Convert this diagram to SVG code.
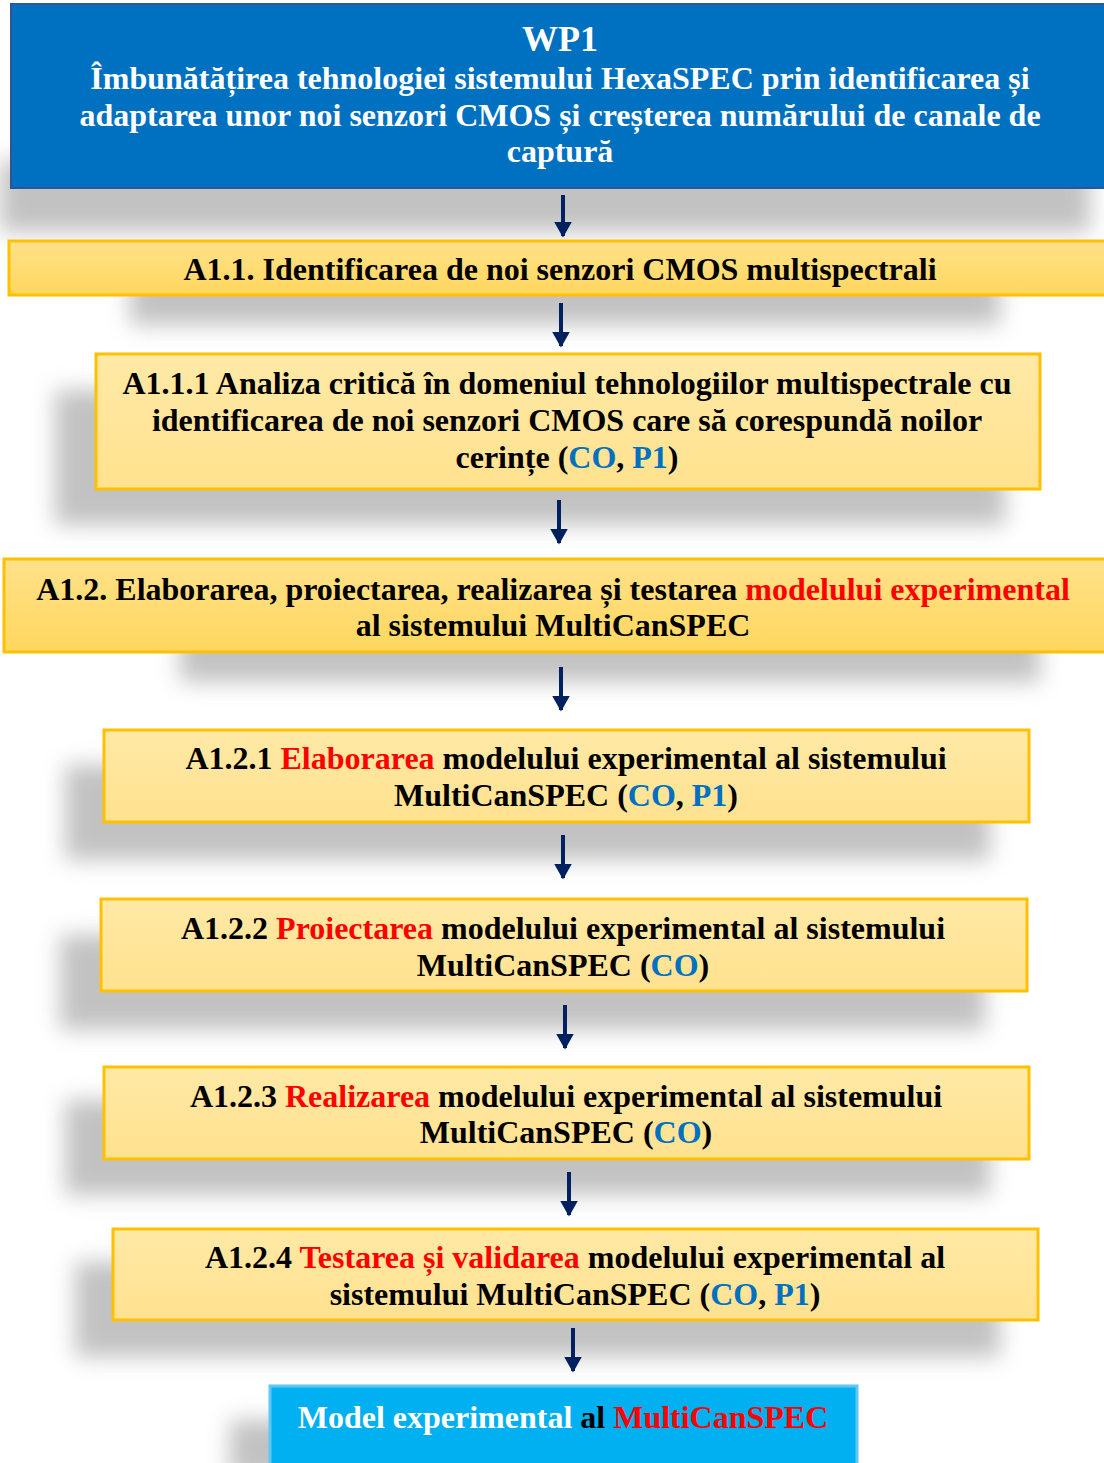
<svg xmlns="http://www.w3.org/2000/svg" width="1104" height="1463" viewBox="0 0 1104 1463">
<style>
.t{font-family:"Liberation Serif","Times New Roman",serif;font-weight:bold;font-size:32px;text-anchor:middle;fill:#000}
.w{fill:#fff}
.r{fill:#FF0000}
.b{fill:#0070C0}
.box1{fill:url(#gGold);stroke:#FFC000;stroke-width:3}
.box2{fill:url(#gLight);stroke:#FFC000;stroke-width:3}
.sh{fill:#9a9a9a;opacity:0.6;filter:url(#blur)}
.arr{stroke:#002060;stroke-width:4;fill:none;marker-end:url(#ah)}
</style>
<defs>
<filter id="blur" x="-20%" y="-60%" width="140%" height="220%"><feGaussianBlur stdDeviation="11"/></filter>
<linearGradient id="gGold" x1="0" y1="0" x2="0" y2="1"><stop offset="0" stop-color="#FFE18A"/><stop offset="1" stop-color="#FFD75E"/></linearGradient>
<linearGradient id="gLight" x1="0" y1="0" x2="0" y2="1"><stop offset="0" stop-color="#FFE9A6"/><stop offset="1" stop-color="#FFE28F"/></linearGradient>
<marker id="ah" markerWidth="4" markerHeight="4.5" refX="3.6" refY="2.25" orient="auto" markerUnits="strokeWidth"><path d="M0,0 L4,2.25 L0,4.5 Z" fill="#002060"/></marker>
</defs>
<rect width="1104" height="1463" fill="#fff"/>
<g id="shadows">
<rect class="sh" x="0" y="160" width="1090" height="72"/>
<rect class="sh" x="130" y="270" width="870" height="55"/>
<rect class="sh" x="55" y="390" width="950" height="135"/>
<rect class="sh" x="180" y="620" width="860" height="62"/>
<rect class="sh" x="65" y="765" width="925" height="95"/>
<rect class="sh" x="60" y="935" width="925" height="95"/>
<rect class="sh" x="65" y="1100" width="925" height="95"/>
<rect class="sh" x="75" y="1262" width="925" height="95"/>
<rect class="sh" x="230" y="1420" width="590" height="60"/>
</g>
<g id="connectors">
<line class="arr" x1="563" y1="195" x2="563" y2="236"/>
<line class="arr" x1="561" y1="303" x2="561" y2="346"/>
<line class="arr" x1="559" y1="500" x2="559" y2="543"/>
<line class="arr" x1="561" y1="667" x2="561" y2="710"/>
<line class="arr" x1="563" y1="835" x2="563" y2="878"/>
<line class="arr" x1="565" y1="1005" x2="565" y2="1048"/>
<line class="arr" x1="569" y1="1172" x2="569" y2="1215"/>
<line class="arr" x1="573" y1="1328" x2="573" y2="1371"/>
</g>
<g id="wp1">
<rect x="11" y="4" width="1095" height="184" fill="#0070C0" stroke="#2F5597" stroke-width="2"/>
<text class="t w" x="560" y="51" style="font-size:36px">WP1</text>
<text class="t w" x="560" y="89">Îmbunătățirea tehnologiei sistemului HexaSPEC prin identificarea și</text>
<text class="t w" x="560" y="126">adaptarea unor noi senzori CMOS și creșterea numărului de canale de</text>
<text class="t w" x="560" y="162">captură</text>
</g>
<g id="a11">
<rect class="box1" x="9" y="241" width="1097" height="54"/>
<text class="t" x="560" y="280">A1.1. Identificarea de noi senzori CMOS multispectrali</text>
</g>
<g id="a111">
<rect class="box2" x="96" y="354" width="944" height="135"/>
<text class="t" x="567" y="394">A1.1.1 Analiza critică în domeniul tehnologiilor multispectrale cu</text>
<text class="t" x="567" y="431">identificarea de noi senzori CMOS care să corespundă noilor</text>
<text class="t" x="567" y="468">cerințe (<tspan class="b">CO</tspan>, <tspan class="b">P1</tspan>)</text>
</g>
<g id="a12">
<rect class="box1" x="4" y="559" width="1102" height="93"/>
<text class="t" x="553" y="600">A1.2. Elaborarea, proiectarea, realizarea și testarea <tspan class="r">modelului experimental</tspan></text>
<text class="t" x="553" y="636">al sistemului MultiCanSPEC</text>
</g>
<g id="a121">
<rect class="box2" x="104" y="730" width="925" height="92"/>
<text class="t" x="566" y="769">A1.2.1 <tspan class="r">Elaborarea</tspan> modelului experimental al sistemului</text>
<text class="t" x="566" y="806">MultiCanSPEC (<tspan class="b">CO</tspan>, <tspan class="b">P1</tspan>)</text>
</g>
<g id="a122">
<rect class="box2" x="101" y="899" width="926" height="92"/>
<text class="t" x="563" y="939">A1.2.2 <tspan class="r">Proiectarea</tspan> modelului experimental al sistemului</text>
<text class="t" x="563" y="976">MultiCanSPEC (<tspan class="b">CO</tspan>)</text>
</g>
<g id="a123">
<rect class="box2" x="104" y="1067" width="925" height="92"/>
<text class="t" x="566" y="1107">A1.2.3 <tspan class="r">Realizarea</tspan> modelului experimental al sistemului</text>
<text class="t" x="566" y="1143">MultiCanSPEC (<tspan class="b">CO</tspan>)</text>
</g>
<g id="a124">
<rect class="box2" x="113" y="1229" width="925" height="91"/>
<text class="t" x="575" y="1268">A1.2.4 <tspan class="r">Testarea și validarea</tspan> modelului experimental al</text>
<text class="t" x="575" y="1305">sistemului MultiCanSPEC (<tspan class="b">CO</tspan>, <tspan class="b">P1</tspan>)</text>
</g>
<g id="result">
<rect x="270" y="1386" width="587" height="82" fill="#00B0F0" stroke="#5BC8F5" stroke-width="3"/>
<text class="t w" x="563" y="1428">Model experimental <tspan fill="#000">al</tspan> <tspan class="r">MultiCanSPEC</tspan></text>
</g>
</svg>
